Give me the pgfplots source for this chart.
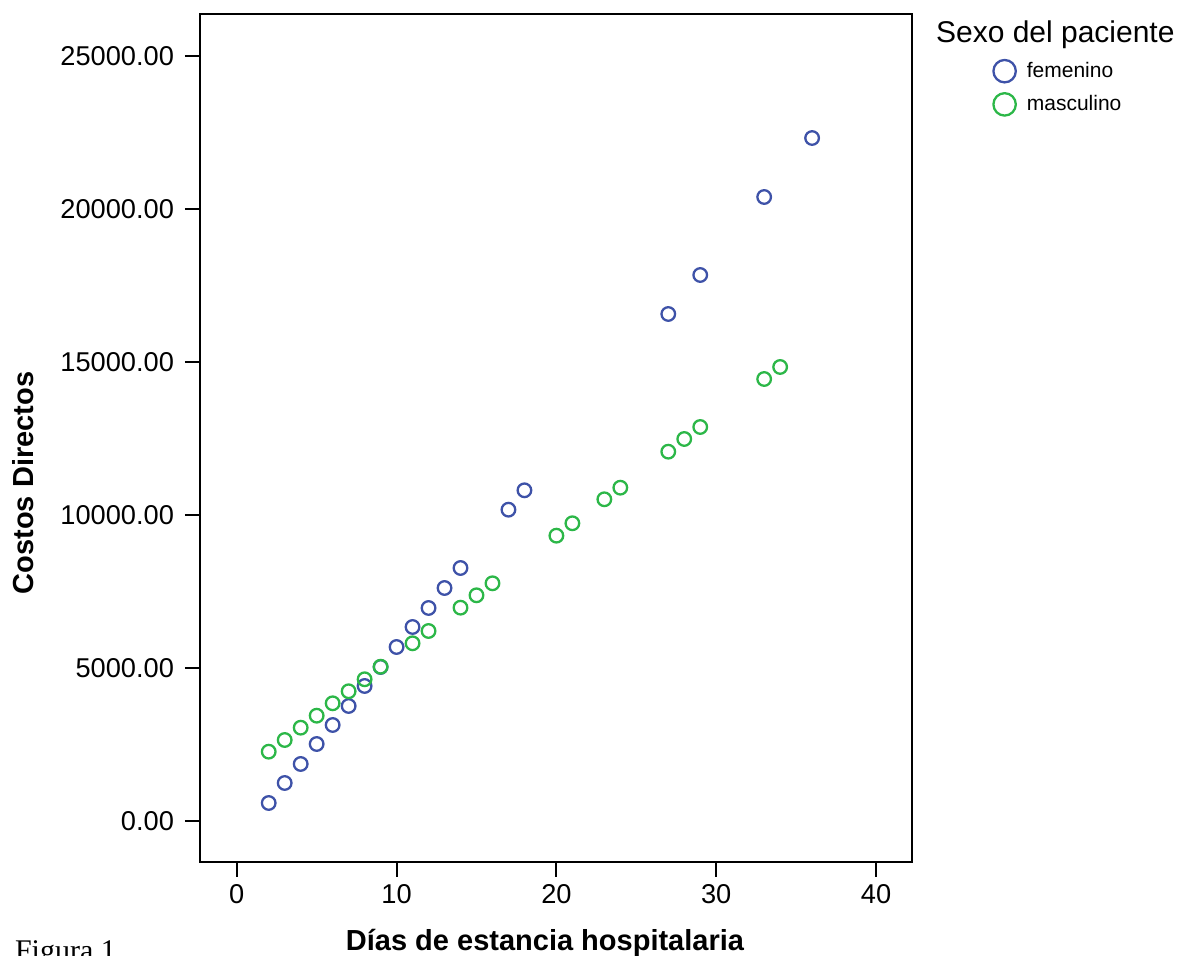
\documentclass[border=0pt]{standalone}
\usepackage{fontspec}
\setmainfont{Liberation Sans}
\newfontfamily\figserif{Liberation Serif}
\usepackage{pgfplots}
\pgfplotsset{compat=1.18}
\definecolor{spssblue}{RGB}{62,82,168}
\definecolor{spssgreen}{RGB}{44,183,72}

\begin{document}
\begin{tikzpicture}
\begin{axis}[
    scale only axis,
    width=356pt, height=424pt,
    xmin=-2.3, xmax=42.25,
    ymin=-1340, ymax=26373,
    xtick={0,10,20,30,40},
    ytick={0,5000,10000,15000,20000,25000},
    xtick pos=left, ytick pos=left,
    tick align=outside,
    major tick length=7.5pt,
    axis line style={line width=1pt},
    tick style={line width=1pt, black},
    scaled y ticks=false,
    /pgf/number format/assume math mode=true,
    y tick label style={xshift=-2pt,
        /pgf/number format/fixed,
        /pgf/number format/fixed zerofill,
        /pgf/number format/precision=2,
        /pgf/number format/1000 sep={}},
    tick label style={font=\fontsize{13.6}{16}\selectfont},
    legend style={draw=none, fill=none,
        at={(axis description cs:1.1138,0.9485)}, anchor=north west,
        font=\fontsize{10.5}{12}\selectfont, inner sep=0pt,
        row sep=3.5pt, column sep=3.5pt},
    legend cell align=left,
    legend image code/.code={\draw[#1, mark size=5.6pt] plot coordinates {(0pt,0pt)};},
]
% femenino
\addplot[only marks, mark=o, mark size=3.4pt, color=spssblue, mark options={line width=1.15pt}] coordinates {
    (2,588) (3,1242) (4,1863) (5,2516) (6,3137) (7,3758) (8,4412) (9,5033)
    (10,5686) (11,6340) (12,6961) (13,7614) (14,8268) (17,10173) (18,10807)
    (27,16569) (29,17843) (33,20392) (36,22320)
};
\addlegendentry{femenino}
% masculino
\addplot[only marks, mark=o, mark size=3.4pt, color=spssgreen, mark options={line width=1.15pt}] coordinates {
    (2,2265) (3,2647) (4,3049) (5,3441) (6,3846) (7,4239) (8,4631) (9,5042)
    (11,5807) (12,6209) (14,6971) (15,7376) (16,7768) (20,9324) (21,9729)
    (23,10513) (24,10892) (27,12069) (28,12484) (29,12876) (33,14444) (34,14837)
};
\addlegendentry{masculino}
\end{axis}
\node[anchor=base west, font=\fontsize{15}{18}\selectfont] at (364.5pt,409.5pt) {Sexo del paciente};
\node[anchor=base, font=\bfseries\fontsize{14.5}{17}\selectfont] at (172.5pt,-44.5pt) {Días de estancia hospitalaria};
\node[anchor=base, rotate=90, font=\bfseries\fontsize{14.5}{17}\selectfont] at (-83pt,189.5pt) {Costos Directos};
\node[anchor=base west, font=\figserif\fontsize{15}{18}\selectfont] at (-96pt,-49.5pt) {Figura 1};
\pgfresetboundingbox
\useasboundingbox (-100pt,-47pt) rectangle (497pt,431pt);
\end{tikzpicture}
\end{document}
